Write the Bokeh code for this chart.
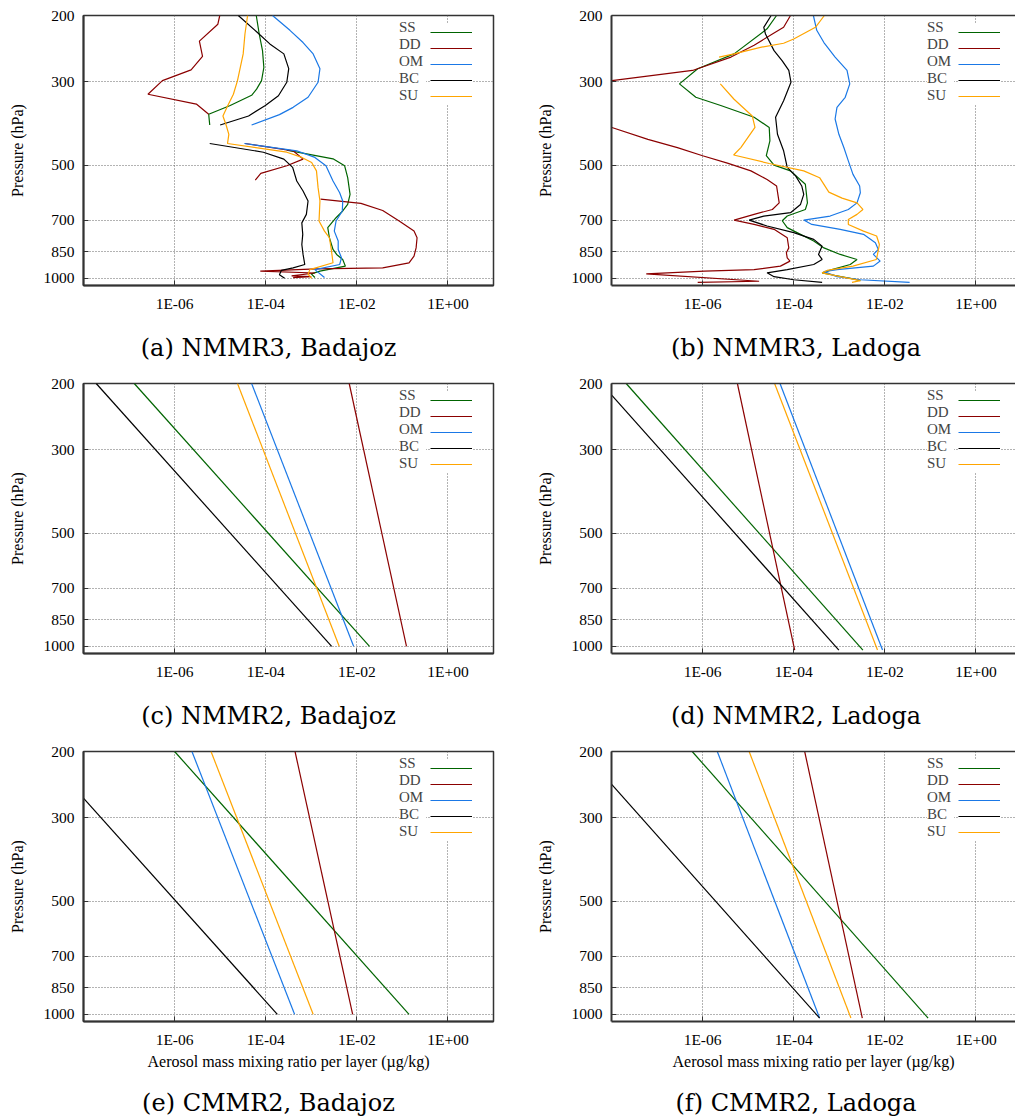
import numpy as np
from bokeh.plotting import figure
from bokeh.layouts import row, column
from bokeh.models import Range1d, FixedTicker, Legend, LegendItem, LogAxis, Div
from bokeh.embed import file_html
from bokeh.resources import INLINE

nan = float("nan")

# ---------------------------------------------------------------- data
SPECIES = ["SS", "DD", "OM", "BC", "SU"]
COLORS = ["#006400", "#8b0000", "#1a78e6", "#000000", "#ffa500"]

X_TICKS = [1e-6, 1e-4, 1e-2, 1.0]
X_TICK_LABELS = ["1E-06", "1E-04", "1E-02", "1E+00"]
Y_TICKS = [200, 300, 500, 700, 850, 1000]
Y_TICK_LABELS = ["200", "300", "500", "700", "850", "1000"]
X_TITLE = "Aerosol mass mixing ratio per layer (µg/kg)"
Y_TITLE = "Pressure (hPa)"

CAPTIONS = ["(a) NMMR3, Badajoz", "(b) NMMR3, Ladoga",
            "(c) NMMR2, Badajoz", "(d) NMMR2, Ladoga",
            "(e) CMMR2, Badajoz", "(f) CMMR2, Ladoga"]

# (a) NMMR3, Badajoz : pressure (hPa) / mixing ratio (ug/kg), nan = missing layers
A_SS_P = [200, 224, 248, 275, 298, 314, 326, 347, 366, 391, nan,
          456, 481, 502, 540, 598, 636, 662, 690, 733, 780, 838, 864, 891, 928, 957, 973, 995]
A_SS_V = [6.2e-5, 7.2e-5, 8.5e-5, 9.1e-5, 8.1e-5, 6.3e-5, 4.9e-5, 1.66e-5, 5.6e-6, 5.9e-6, nan,
          2.9e-4, 3.0e-3, 5.4e-3, 6.3e-3, 7.1e-3, 6.3e-3, 4.9e-3, 3.5e-3, 2.3e-3, 2.5e-3,
          3.0e-3, 3.6e-3, 4.9e-3, 5.6e-3, 1.55e-3, 1.0e-3, 1.2e-3]
A_DD_P = [200, 211, 234, 257, 279, 298, 324, 344, 366, nan,
          438, 458, 482, 502, 526, 548, nan,
          616, 632, 660, 704, 749, 780, 830, 873, 910, 938, 944, 957, 968, 985, 990, 996]
A_DD_V = [9.8e-6, 8.9e-6, 3.5e-6, 4.1e-6, 2.3e-6, 5.4e-7, 2.6e-7, 3.0e-6, 5.6e-6, nan,
          3.5e-5, 4.0e-4, 6.6e-4, 2.9e-4, 7.8e-5, 5.9e-5, nan,
          1.6e-3, 1.23e-2, 3.7e-2, 8.5e-2, 0.18, 0.21, 0.20, 0.18, 0.14, 3.7e-2, 1.3e-3,
          7.6e-5, 1.2e-3, 3.7e-4, 1.0e-3, 4.0e-4]
A_OM_P = [200, 219, 236, 253, 277, 301, 330, 351, 367, 391, nan,
          438, 458, 477, 502, 551, 592, 623, 662, 704, 749, 796, 838, 882, 919, 948, 995]
A_OM_V = [1.41e-4, 3.4e-4, 6.6e-4, 1.1e-3, 1.55e-3, 1.41e-3, 8.5e-4, 4.0e-4, 2.0e-4, 4.9e-5, nan,
          3.4e-5, 4.8e-4, 1.2e-3, 2.1e-3, 3.0e-3, 4.2e-3, 4.9e-3, 4.8e-3, 3.5e-3, 3.2e-3,
          3.9e-3, 3.9e-3, 4.6e-3, 4.2e-3, 1.2e-3, 1.95e-3]
A_BC_P = [200, 221, 238, 253, 277, 301, 327, 347, 370, 391, nan,
          438, 462, 482, 507, 551, 586, 623, 676, 712, 764, 813, 864, 919, 938, 953, 978, 1000]
A_BC_V = [2.5e-5, 6.3e-5, 1.23e-4, 2.5e-4, 3.2e-4, 2.9e-4, 1.9e-4, 9.8e-5, 4.2e-5, 1.0e-5, nan,
          5.9e-6, 8.9e-5, 2.5e-4, 3.9e-4, 4.8e-4, 6.6e-4, 8.5e-4, 7.8e-4, 6.2e-4, 6.5e-4,
          6.2e-4, 6.6e-4, 7.2e-4, 4.0e-4, 2.2e-4, 2.0e-4, 2.6e-4]
A_SU_P = [200, 224, 253, 298, 324, 351, 370, 391, 414, 438,
          462, 477, 492, 518, 574, 623, 704, 749, 780, 838, 909, 948, 975, 1000]
A_SU_V = [4.0e-5, 3.5e-5, 3.2e-5, 2.4e-5, 1.95e-5, 1.41e-5, 1.15e-5, 1.35e-5, 1.55e-5, 1.45e-5,
          2.9e-4, 6.2e-4, 1.02e-3, 1.3e-3, 1.41e-3, 1.55e-3, 1.48e-3, 1.95e-3, 2.5e-3, 2.75e-3,
          3.0e-3, 9.3e-4, 8.5e-4, 1.02e-3]

# (b) NMMR3, Ladoga
B_SS_P = [200, 217, 253, 277, 304, 330, 347, 373, 397, 431, 472, 500, 518, 562, 630,
          656, 683, 703, 733, 764, 796, 830, 864, 891, 919, 948, 967, 977, 1003, 1014]
B_SS_V = [4.2e-5, 2.6e-5, 4.9e-6, 7.8e-7, 3.1e-7, 7.1e-7, 2.5e-6, 1.35e-5, 2.9e-5, 3.0e-5,
          2.5e-5, 3.7e-5, 8.5e-5, 1.8e-4, 2.0e-4, 1.8e-4, 7.2e-5, 5.6e-5, 7.2e-5, 1.41e-4,
          2.75e-4, 4.6e-4, 1.05e-3, 2.45e-3, 1.74e-3, 6.9e-4, 4.2e-4, 6.3e-4, 2.0e-3, 2.9e-3]
B_DD_P = [200, 215, 224, 240, 258, 280, 298, nan,
          397, 427, 449, 472, 494, 518, 546, 568, 630, 656, 676, 700, 719, 741, 780, 830,
          855, 882, 900, 928, 948, 957, 973, 1018, 1025]
B_DD_V = [8.5e-5, 6.0e-5, 3.4e-5, 1.35e-5, 4.2e-6, 6.0e-7, 1.02e-8, nan,
          1.02e-8, 6.3e-8, 2.8e-7, 1.0e-6, 3.5e-6, 1.15e-5, 2.6e-5, 4.2e-5, 4.8e-5, 3.4e-5,
          1.35e-5, 4.9e-6, 1.35e-5, 3.7e-5, 7.2e-5, 7.8e-5, 6.9e-5, 7.2e-5, 8.3e-5, 5.1e-5,
          1.35e-5, 1.1e-6, 5.8e-8, 1.74e-5, 7.8e-7]
B_OM_P = [200, 219, 236, 258, 280, 304, 330, 351, 377, 414, 449, 487, 529, 568, 592, 630,
          656, 683, 700, 719, 741, 764, 804, 838, 864, 900, 928, 948, 960, 990, 1009, 1025]
B_OM_V = [2.7e-4, 3.2e-4, 4.6e-4, 8.1e-4, 1.48e-3, 1.7e-3, 1.35e-3, 8.9e-4, 8.1e-4, 9.8e-4,
          1.26e-3, 1.58e-3, 2.0e-3, 2.8e-3, 2.9e-3, 2.45e-3, 1.58e-3, 6.3e-4, 1.66e-4, 2.5e-4,
          1.05e-3, 3.4e-3, 6.2e-3, 7.2e-3, 5.6e-3, 7.9e-3, 5.6e-3, 8.9e-4, 4.6e-4, 8.9e-4,
          2.9e-3, 3.5e-2]
B_BC_P = [200, 215, 224, 248, 264, 280, 301, 337, 373, 414, 458, 507, 534, 568, 598, 636,
          669, 683, 700, 726, 756, 788, 821, 864, 891, 919, 948, 967, 990, 1009, 1025]
B_BC_V = [3.2e-5, 2.2e-5, 2.4e-5, 3.7e-5, 5.6e-5, 7.8e-5, 8.7e-5, 6.0e-5, 4.0e-5, 4.4e-5,
          6.0e-5, 7.2e-5, 1.1e-4, 1.5e-4, 1.66e-4, 1.41e-4, 8.5e-5, 2.2e-5, 1.05e-5, 2.6e-5,
          1.0e-4, 2.75e-4, 4.2e-4, 3.5e-4, 4.2e-4, 2.75e-4, 7.2e-5, 2.6e-5, 3.7e-5, 1.0e-4, 4.2e-4]
B_SU_P = [200, 215, 231, 237, 243, 253, 258, nan,
          304, 334, 370, 397, 449, 470, 495, 518, 540, 590, 612, 630, 656, 676, 698, 719,
          749, 772, 813, 864, 891, 928, 953, 967, 990, 1014, 1025]
B_SU_V = [4.7e-4, 3.0e-4, 1.0e-4, 6.0e-5, 1.86e-5, 4.9e-6, 2.3e-6, nan,
          2.45e-6, 4.9e-6, 1.23e-5, 1.41e-5, 6.9e-6, 4.8e-6, 2.9e-5, 1.66e-4, 3.7e-4, 5.9e-4,
          1.15e-3, 2.45e-3, 3.3e-3, 2.45e-3, 1.58e-3, 1.58e-3, 3.4e-3, 6.6e-3, 7.6e-3, 6.9e-3,
          6.5e-3, 2.0e-3, 5.4e-4, 4.2e-4, 1.05e-3, 2.9e-3, 1.9e-3]

# (c)-(f): profiles at the top (200 hPa) and bottom (surface) levels
P_BADAJOZ = [200, 1000]
P_LADOGA = [200, 1023]
C_SS = [1.3e-7, 1.9e-2]; C_DD = [6.8e-3, 0.123]; C_OM = [4.9e-5, 8.5e-3]
C_BC = [1.9e-8, 2.8e-3]; C_SU = [2.4e-5, 4.1e-3]
D_SS = [2.1e-8, 3.3e-3]; D_DD = [5.8e-6, 1.05e-4]; D_OM = [5.0e-5, 8.9e-3]
D_BC = [6.0e-9, 9.8e-4]; D_SU = [3.8e-5, 6.9e-3]
E_SS = [1.0e-6, 0.14]; E_DD = [4.4e-4, 8.1e-3]; E_OM = [2.4e-6, 4.3e-4]
E_BC = [1.2e-9, 1.8e-4]; E_SU = [6.3e-6, 1.1e-3]
F_SS = [5.9e-7, 8.9e-2]; F_DD = [1.74e-4, 3.2e-3]; F_OM = [2.1e-6, 3.7e-4]
F_BC = [2.3e-9, 3.7e-4]; F_SU = [1.05e-5, 1.8e-3]

PANELS = [
    [(A_SS_P, A_SS_V), (A_DD_P, A_DD_V), (A_OM_P, A_OM_V), (A_BC_P, A_BC_V), (A_SU_P, A_SU_V)],
    [(B_SS_P, B_SS_V), (B_DD_P, B_DD_V), (B_OM_P, B_OM_V), (B_BC_P, B_BC_V), (B_SU_P, B_SU_V)],
    [(P_BADAJOZ, C_SS), (P_BADAJOZ, C_DD), (P_BADAJOZ, C_OM), (P_BADAJOZ, C_BC), (P_BADAJOZ, C_SU)],
    [(P_LADOGA, D_SS), (P_LADOGA, D_DD), (P_LADOGA, D_OM), (P_LADOGA, D_BC), (P_LADOGA, D_SU)],
    [(P_BADAJOZ, E_SS), (P_BADAJOZ, E_DD), (P_BADAJOZ, E_OM), (P_BADAJOZ, E_BC), (P_BADAJOZ, E_SU)],
    [(P_LADOGA, F_SS), (P_LADOGA, F_DD), (P_LADOGA, F_OM), (P_LADOGA, F_BC), (P_LADOGA, F_SU)],
]

# ---------------------------------------------------------------- styling
SERIF = "Liberation Serif"
FRAME_H = 270
TOP = 15
LEFT_W, RIGHT_W = 500, 515


def style_axis(ax):
    ax.axis_line_color = "#333333"
    ax.axis_line_width = 2
    ax.major_tick_line_color = "#333333"
    ax.major_tick_line_width = 1
    ax.major_tick_in = 5
    ax.major_tick_out = 0
    ax.minor_tick_line_color = None
    ax.major_label_text_font = SERIF
    ax.major_label_text_font_size = "15.5px"
    ax.major_label_text_color = "#000000"
    ax.axis_label_text_font = SERIF
    ax.axis_label_text_font_size = "16px"
    ax.axis_label_text_font_style = "normal"
    ax.axis_label_text_color = "#000000"


def make_panel(idx):
    left_col = idx % 2 == 0
    bottom_row = idx >= 4
    frame_w = 410 if left_col else 404
    mbl = 83 if left_col else 111
    mbb = 62 if bottom_row else 30
    x_end = 10 ** (-8 + 9 * frame_w / 410)
    total_w = LEFT_W if left_col else RIGHT_W

    p = figure(width=total_w, height=TOP + FRAME_H + mbb, title=None,
               x_axis_type="log", y_axis_type="log",
               x_range=Range1d(1e-8, x_end), y_range=Range1d(1045, 200),
               output_backend="svg", toolbar_location=None,
               min_border_left=mbl, min_border_right=total_w - mbl - frame_w,
               min_border_top=TOP, min_border_bottom=mbb)
    p.background_fill_color = "white"
    p.border_fill_color = "white"

    xa = p.xaxis[0]
    style_axis(xa)
    xa.ticker = FixedTicker(ticks=X_TICKS, minor_ticks=[])
    xa.major_label_overrides = dict(zip(X_TICKS, X_TICK_LABELS))
    xa.major_label_standoff = 9
    if bottom_row:
        xa.axis_label = X_TITLE
        xa.axis_label_standoff = 2

    ya = p.yaxis[0]
    style_axis(ya)
    ya.ticker = FixedTicker(ticks=Y_TICKS, minor_ticks=[])
    ya.major_label_overrides = dict(zip(Y_TICKS, Y_TICK_LABELS))
    ya.major_label_standoff = 9
    ya.axis_label = Y_TITLE
    ya.axis_label_standoff = 15

    if left_col:
        p.outline_line_color = "#333333"
        p.outline_line_width = 1.5
    else:
        p.outline_line_color = None
        top = LogAxis(ticker=FixedTicker(ticks=[], minor_ticks=[]))
        top.axis_line_color = "#333333"
        top.axis_line_width = 1.5
        top.major_tick_line_color = None
        top.minor_tick_line_color = None
        p.add_layout(top, "above")

    p.grid.grid_line_color = "#666666"
    p.grid.grid_line_dash = "1 2"
    p.grid.grid_line_width = 1

    rends = []
    for (pres, vals), col in zip(PANELS[idx], COLORS):
        r = p.line(x=np.array(vals, dtype=float), y=np.array(pres, dtype=float),
                   line_color=col, line_width=1.2)
        rends.append(r)

    # gnuplot-style key: names on the left, line samples on the right
    common = dict(glyph_height=16, padding=2, spacing=0, margin=0,
                  label_text_font=SERIF, label_text_font_size="15px",
                  background_fill_color="white", background_fill_alpha=1.0,
                  border_line_color=None, label_standoff=0)
    leg_names = Legend(items=[LegendItem(label=s, renderers=[r]) for s, r in zip(SPECIES, rends)],
                       location=(316, 181), glyph_width=0, label_width=27, **common)
    leg_lines = Legend(items=[LegendItem(label=" ", renderers=[r]) for r in rends],
                       location=(346.7, 181), glyph_width=42, label_width=0, **common)
    p.add_layout(leg_names)
    p.add_layout(leg_lines)
    return p


def caption(idx):
    left_col = idx % 2 == 0
    bottom_row = idx >= 4
    width = LEFT_W if left_col else RIGHT_W
    indent, inner = (37, 463) if left_col else (77, 438)
    height = 35 if bottom_row else 53
    pad = 6 if bottom_row else 19
    html = ('<div style="margin-left:%dpx;width:%dpx;padding-top:%dpx;text-align:center;'
            'font-family:\'DejaVu Serif\';font-size:24px;line-height:28px;color:#000;'
            'white-space:nowrap">%s</div>' % (indent, inner, pad, CAPTIONS[idx]))
    return Div(text=html, width=width, height=height, margin=0)


figs = [make_panel(i) for i in range(6)]
caps = [caption(i) for i in range(6)]
layout = column(row(figs[0], figs[1]), row(caps[0], caps[1]),
                row(figs[2], figs[3]), row(caps[2], caps[3]),
                row(figs[4], figs[5]), row(caps[4], caps[5]))

open("out.html", "w").write(file_html(layout, INLINE))
